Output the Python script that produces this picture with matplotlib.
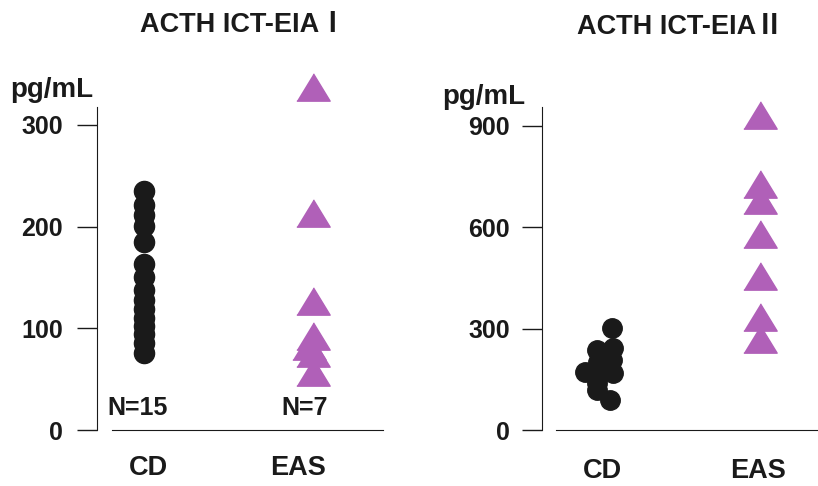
import matplotlib
matplotlib.use("Agg")
import matplotlib.pyplot as plt

plt.rcParams['font.family'] = ['Liberation Sans', 'Noto Sans CJK JP', 'DejaVu Sans']
plt.rcParams['font.weight'] = 'bold'

# panel I (pg/mL)
cd1 = [235, 221, 211, 201, 185, 163, 150, 138, 128, 119, 110, 102, 94, 86, 76]
eas1 = [337, 213, 127, 92, 83, 76, 57]
eas1_dx = [0, 0, 0, 0, -0.024, 0, 0]

# panel II (pg/mL)
cd2 = [301, 243, 237, 207, 200, 172, 169, 157, 140, 118, 89]
cd2_dx = [0.073, 0.081, -0.019, 0.075, -0.01, -0.094, 0.081, -0.019, -0.019, -0.019, 0.0625]
eas2 = [931, 728, 680, 581, 457, 334, 269]

groups = ["CD", "EAS"]
ticks1 = [0, 100, 200, 300]
ticks2 = [0, 300, 600, 900]

ink = "#1a1a1a"
purple = "#b060b8"
tri = [(-1, -0.82), (1, -0.82), (0, 0.82)]

fig = plt.figure(figsize=(8.18, 4.86), dpi=100)
H = 486.0
W = 818.0


def make_ax(x0, x1, top, bot):
    return fig.add_axes([x0 / W, 1 - bot / H, (x1 - x0) / W, (bot - top) / H])


ax1 = make_ax(97, 383, 107, 430)
ax2 = make_ax(541.7, 818, 107, 430)

# left panel
ax1.plot([0] * len(cd1), cd1, 'o', color=ink, ms=14.5, mec=ink, ls='none', clip_on=False)
ax1.plot([1 + d for d in eas1_dx], eas1, marker=tri, color=purple, ms=24, ls='none', clip_on=False)
ax1.set_xlim(-0.278, 1.414)
ax1.set_ylim(0, 317.6)
ax1.spines['bottom'].set_bounds(-0.189, 1.414)
ax1.set_xticks([0.024, 0.911])
ax1.set_xticklabels(groups)
ax1.set_yticks(ticks1)
ax1.tick_params(axis='y', length=14.4, width=1, pad=10, labelsize=18, colors=ink)
ax1.tick_params(axis='x', length=0, pad=18, labelsize=19.5, colors=ink)
ax1.text(-0.038, 21.6, "N=15", ha='center', va='center', fontsize=18, color=ink)
ax1.text(0.953, 21.6, "N=7", ha='center', va='center', fontsize=18, color=ink)

# right panel
ax2.plot([d for d in cd2_dx], cd2, 'o', color=ink, ms=14, mec=ink, ls='none', clip_on=False)
ax2.plot([1] * len(eas2), eas2, marker=tri, color=purple, ms=24, ls='none', clip_on=False)
ax2.set_xlim(-0.364, 1.3625)
ax2.set_ylim(0, 955.6)
ax2.spines['bottom'].set_bounds(-0.275, 1.3625)
ax2.set_xticks([0.0125, 0.9875])
ax2.set_xticklabels(groups)
ax2.set_yticks(ticks2)
ax2.tick_params(axis='y', length=14.4, width=1, pad=8.6, labelsize=18, colors=ink)
ax2.tick_params(axis='x', length=0, pad=20, labelsize=19.5, colors=ink)

for ax in (ax1, ax2):
    ax.spines['top'].set_visible(False)
    ax.spines['right'].set_visible(False)
    ax.spines['left'].set_color(ink)
    ax.spines['bottom'].set_color(ink)
    ax.patch.set_visible(False)

fig.text(243 / W, 1 - 25 / H, "ACTH ICT-EIA\u2160", ha='center', va='center', fontsize=19.5, color=ink)
fig.text(680 / W, 1 - 27 / H, "ACTH ICT-EIA\u2161", ha='center', va='center', fontsize=19.5, color=ink)
fig.text(10 / W, 1 - 90 / H, "pg/mL", ha='left', va='center', fontsize=20, color=ink)
fig.text(442 / W, 1 - 97 / H, "pg/mL", ha='left', va='center', fontsize=20, color=ink)

fig.savefig("out.png", dpi=100)
